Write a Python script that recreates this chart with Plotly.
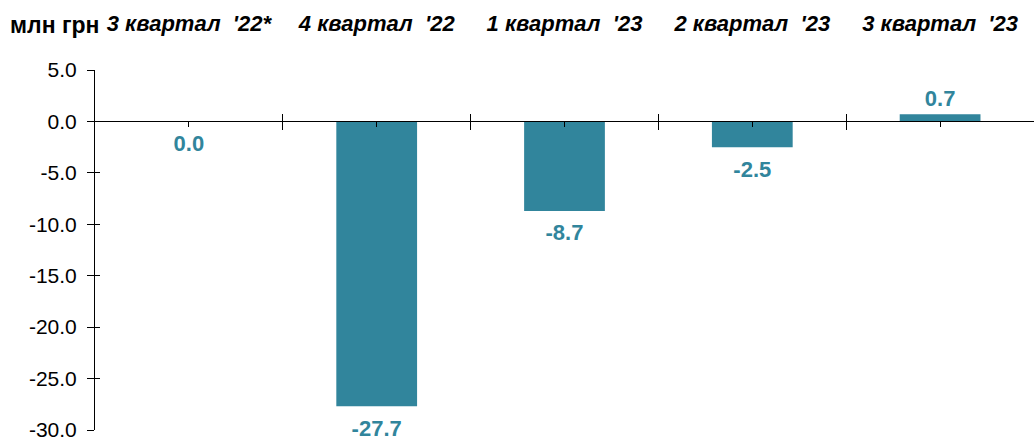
import plotly.graph_objects as go

# Quarterly values, UAH mln
quarters = ["3 квартал  '22*", "4 квартал  '22", "1 квартал  '23", "2 квартал  '23", "3 квартал  '23"]
values = [0.0, -27.7, -8.7, -2.5, 0.7]
y_ticks = [5, 0, -5, -10, -15, -20, -25, -30]
unit_label = "млн грн"

BAR_COLOR = "#31859C"
FONT = "Liberation Sans"
Y_MIN, Y_MAX = -30, 5

idx = list(range(len(quarters)))
bounds = [i + 0.5 for i in idx[:-1]]
zero_pos = (0 - Y_MIN) / (Y_MAX - Y_MIN)
x_range = [-0.5, len(quarters) - 0.5]
blank = [None] * len(idx)

fig = go.Figure()

# bars
fig.add_bar(
    x=idx,
    y=values,
    width=0.43,
    marker=dict(color=BAR_COLOR, line=dict(width=0)),
    hoverinfo="skip",
)

# value labels: above positive bars, below zero / negative ones
# (an invisible marker sets the gap between bar end and label)
fig.add_scatter(
    x=idx,
    y=values,
    mode="markers+text",
    marker=dict(size=[2 if v > 0 else 19 for v in values], opacity=0),
    text=[f"{v:.1f}" for v in values],
    textposition=["top center" if v > 0 else "bottom center" for v in values],
    textfont=dict(family=FONT, size=22, color=BAR_COLOR, weight="bold"),
    cliponaxis=False,
    hoverinfo="skip",
)

# carriers for the overlay axes (crossing ticks and quarter labels)
fig.add_scatter(x=idx, y=blank, xaxis="x2", yaxis="y2", mode="markers", hoverinfo="skip")
fig.add_scatter(x=idx, y=blank, xaxis="x3", yaxis="y", mode="markers", hoverinfo="skip")

fig.update_layout(
    width=1034,
    height=441,
    margin=dict(l=95, r=0, t=70, b=11),
    paper_bgcolor="white",
    plot_bgcolor="white",
    showlegend=False,
    font=dict(family=FONT, color="black"),
    xaxis=dict(
        range=x_range,
        anchor="free",
        position=zero_pos,
        showline=True,
        linecolor="black",
        linewidth=1,
        showgrid=False,
        zeroline=False,
        tickmode="array",
        tickvals=idx,
        ticks="outside",
        ticklen=5,
        tickcolor="black",
        showticklabels=False,
        minor=dict(tickmode="array", tickvals=bounds, ticks="outside",
                   ticklen=8, tickcolor="black", showgrid=False),
    ),
    xaxis2=dict(
        range=x_range,
        overlaying="x",
        anchor="free",
        position=zero_pos,
        showline=False,
        showgrid=False,
        zeroline=False,
        tickmode="array",
        tickvals=bounds,
        ticks="inside",
        ticklen=7,
        tickcolor="black",
        showticklabels=False,
    ),
    xaxis3=dict(
        range=x_range,
        overlaying="x",
        side="top",
        anchor="free",
        position=1,
        showline=False,
        showgrid=False,
        zeroline=False,
        tickmode="array",
        tickvals=idx,
        ticktext=quarters,
        ticks="",
        ticklabelstandoff=35,
        tickfont=dict(family=FONT, size=22, color="black", weight="bold", style="italic"),
    ),
    yaxis=dict(
        range=[Y_MIN, Y_MAX],
        showline=True,
        linecolor="black",
        linewidth=1,
        showgrid=False,
        zeroline=False,
        tickmode="array",
        tickvals=y_ticks,
        ticktext=[f"{v:.1f}" for v in y_ticks],
        ticks="outside",
        ticklen=7,
        tickcolor="black",
        ticklabelstandoff=6,
        ticklabeloverflow="allow",
        tickfont=dict(family=FONT, size=21, color="black"),
    ),
    yaxis2=dict(
        range=[Y_MIN, Y_MAX],
        overlaying="y",
        side="left",
        anchor="x",
        showline=False,
        showgrid=False,
        zeroline=False,
        tickmode="array",
        tickvals=y_ticks,
        ticks="inside",
        ticklen=5,
        tickcolor="black",
        showticklabels=False,
    ),
    annotations=[
        dict(
            text=unit_label,
            xref="paper", yref="paper",
            x=0, y=1,
            xanchor="right", yanchor="middle",
            xshift=6, yshift=45,
            showarrow=False,
            font=dict(family=FONT, size=23, color="black", weight="bold"),
        )
    ],
)

fig.write_html("out.html")
